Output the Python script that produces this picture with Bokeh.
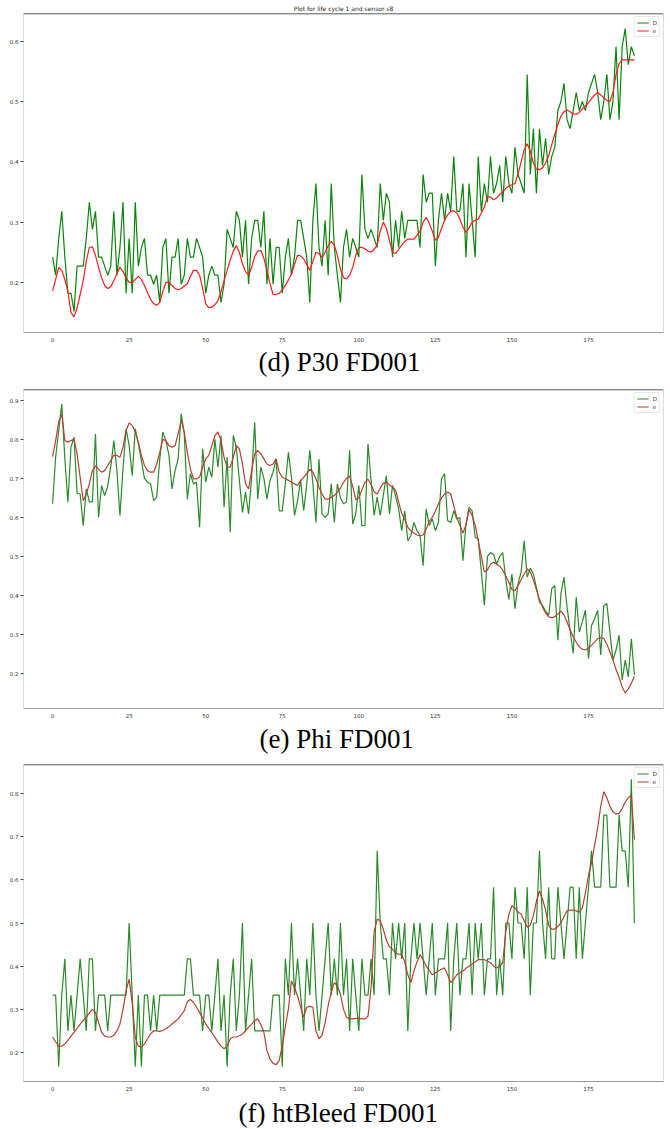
from bokeh.plotting import figure
from bokeh.models import Range1d, FixedTicker, Span, Title
from bokeh.layouts import column
from bokeh.embed import file_html
from bokeh.resources import INLINE

# ---- data -------------------------------------------------------------
cycles = list(range(191))
x_ticks = [0, 25, 50, 75, 100, 125, 150, 175]
legend_labels = ["D", "e"]

# sensor s8 (P30), normalised, with its smoothed trace
p30_raw = [
    0.242, 0.212, 0.273, 0.318, 0.242, 0.182, 0.182, 0.152, 0.227, 0.227,
    0.227, 0.273, 0.333, 0.288, 0.318, 0.242, 0.242, 0.227, 0.212, 0.227,
    0.318, 0.212, 0.258, 0.333, 0.182, 0.273, 0.182, 0.333, 0.227, 0.258,
    0.273, 0.212, 0.212, 0.197, 0.212, 0.167, 0.258, 0.273, 0.182, 0.242,
    0.242, 0.273, 0.197, 0.212, 0.273, 0.242, 0.242, 0.273, 0.258, 0.242,
    0.182, 0.212, 0.227, 0.212, 0.212, 0.167, 0.197, 0.288, 0.273, 0.258,
    0.318, 0.303, 0.242, 0.303, 0.197, 0.273, 0.303, 0.303, 0.258, 0.318,
    0.197, 0.273, 0.197, 0.258, 0.258, 0.182, 0.242, 0.273, 0.212, 0.242,
    0.303, 0.303, 0.273, 0.242, 0.167, 0.303, 0.364, 0.258, 0.227, 0.303,
    0.212, 0.364, 0.258, 0.212, 0.167, 0.258, 0.288, 0.242, 0.273, 0.258,
    0.242, 0.379, 0.288, 0.273, 0.288, 0.273, 0.258, 0.364, 0.303, 0.348,
    0.333, 0.242, 0.303, 0.258, 0.318, 0.273, 0.303, 0.303, 0.303, 0.303,
    0.258, 0.379, 0.333, 0.348, 0.348, 0.227, 0.303, 0.348, 0.303, 0.348,
    0.318, 0.409, 0.318, 0.318, 0.364, 0.242, 0.364, 0.303, 0.242, 0.409,
    0.318, 0.364, 0.333, 0.409, 0.348, 0.364, 0.394, 0.333, 0.409, 0.364,
    0.348, 0.424, 0.379, 0.364, 0.348, 0.545, 0.379, 0.455, 0.348, 0.455,
    0.394, 0.439, 0.379, 0.409, 0.424, 0.485, 0.500, 0.530, 0.470, 0.455,
    0.485, 0.515, 0.485, 0.500, 0.485, 0.515, 0.530, 0.545, 0.515, 0.470,
    0.500, 0.545, 0.470, 0.500, 0.591, 0.470, 0.591, 0.621, 0.561, 0.591,
    0.576,
]
p30_smooth = [
    0.186, 0.205, 0.225, 0.220, 0.205, 0.185, 0.150, 0.143, 0.158, 0.180,
    0.203, 0.235, 0.258, 0.259, 0.245, 0.225, 0.208, 0.195, 0.190, 0.193,
    0.203, 0.215, 0.225, 0.218, 0.208, 0.200, 0.200, 0.205, 0.210, 0.205,
    0.195, 0.183, 0.172, 0.165, 0.162, 0.167, 0.185, 0.200, 0.200, 0.195,
    0.190, 0.188, 0.190, 0.194, 0.198, 0.210, 0.220, 0.220, 0.212, 0.190,
    0.165, 0.158, 0.159, 0.163, 0.170, 0.185, 0.203, 0.220, 0.237, 0.252,
    0.261, 0.250, 0.231, 0.218, 0.212, 0.225, 0.243, 0.252, 0.253, 0.240,
    0.220, 0.198, 0.180, 0.180, 0.182, 0.188, 0.195, 0.204, 0.214, 0.230,
    0.245, 0.244, 0.239, 0.230, 0.220, 0.235, 0.250, 0.248, 0.242, 0.250,
    0.261, 0.268, 0.262, 0.245, 0.222, 0.208, 0.206, 0.212, 0.225, 0.245,
    0.258, 0.258, 0.256, 0.252, 0.250, 0.255, 0.262, 0.285, 0.300, 0.290,
    0.270, 0.250, 0.248, 0.255, 0.262, 0.268, 0.272, 0.272, 0.272, 0.278,
    0.285, 0.300, 0.308, 0.298, 0.285, 0.270, 0.275, 0.290, 0.303, 0.312,
    0.318, 0.319, 0.315, 0.305, 0.292, 0.283, 0.290, 0.300, 0.303, 0.305,
    0.315, 0.325, 0.342, 0.342, 0.337, 0.340, 0.346, 0.350, 0.356, 0.360,
    0.362, 0.364, 0.380, 0.400, 0.420, 0.430, 0.418, 0.398, 0.388, 0.387,
    0.390, 0.398, 0.410, 0.428, 0.446, 0.462, 0.476, 0.483, 0.486, 0.483,
    0.479, 0.479, 0.482, 0.488, 0.493, 0.498, 0.505, 0.511, 0.515, 0.511,
    0.506, 0.502, 0.500, 0.515, 0.545, 0.563, 0.569, 0.569, 0.569, 0.569,
    0.569,
]

# Phi, normalised, with its smoothed trace
phi_raw = [
    0.635, 0.755, 0.823, 0.891, 0.750, 0.639, 0.780, 0.806, 0.662, 0.660,
    0.579, 0.673, 0.640, 0.640, 0.814, 0.600, 0.682, 0.656, 0.680, 0.730,
    0.797, 0.720, 0.605, 0.725, 0.827, 0.784, 0.707, 0.827, 0.789, 0.746,
    0.700, 0.690, 0.686, 0.643, 0.652, 0.750, 0.819, 0.797, 0.759, 0.673,
    0.720, 0.750, 0.866, 0.814, 0.647, 0.712, 0.686, 0.690, 0.575, 0.776,
    0.690, 0.729, 0.703, 0.800, 0.729, 0.810, 0.626, 0.755, 0.562, 0.810,
    0.780, 0.695, 0.613, 0.665, 0.609, 0.703, 0.844, 0.647, 0.729, 0.700,
    0.647, 0.695, 0.716, 0.750, 0.617, 0.617, 0.686, 0.767, 0.703, 0.605,
    0.643, 0.695, 0.617, 0.686, 0.772, 0.686, 0.587, 0.750, 0.609, 0.600,
    0.609, 0.686, 0.587, 0.686, 0.650, 0.635, 0.640, 0.772, 0.583, 0.609,
    0.682, 0.579, 0.579, 0.789, 0.695, 0.605, 0.652, 0.605, 0.656, 0.707,
    0.609, 0.682, 0.656, 0.622, 0.566, 0.617, 0.540, 0.553, 0.587, 0.566,
    0.553, 0.476, 0.622, 0.579, 0.596, 0.566, 0.587, 0.699, 0.712, 0.592,
    0.587, 0.617, 0.596, 0.600, 0.489, 0.583, 0.626, 0.617, 0.549, 0.545,
    0.463, 0.374, 0.500, 0.510, 0.505, 0.480, 0.500, 0.510, 0.440, 0.390,
    0.455, 0.366, 0.430, 0.460, 0.540, 0.447, 0.470, 0.455, 0.420, 0.383,
    0.374, 0.360, 0.349, 0.417, 0.425, 0.285, 0.404, 0.447, 0.370, 0.310,
    0.251, 0.396, 0.306, 0.332, 0.362, 0.238, 0.323, 0.340, 0.362, 0.247,
    0.374, 0.379, 0.306, 0.234, 0.260, 0.298, 0.183, 0.234, 0.191, 0.289,
    0.196,
]
phi_smooth = [
    0.756, 0.797, 0.845, 0.866, 0.797, 0.793, 0.797, 0.800, 0.763, 0.703,
    0.643, 0.660, 0.686, 0.720, 0.733, 0.724, 0.716, 0.720, 0.733, 0.746,
    0.759, 0.759, 0.754, 0.780, 0.823, 0.842, 0.836, 0.819, 0.793, 0.759,
    0.733, 0.720, 0.716, 0.716, 0.737, 0.767, 0.800, 0.797, 0.784, 0.780,
    0.784, 0.814, 0.849, 0.819, 0.767, 0.724, 0.699, 0.699, 0.703, 0.729,
    0.750, 0.759, 0.784, 0.810, 0.819, 0.797, 0.754, 0.729, 0.729, 0.754,
    0.784, 0.776, 0.737, 0.686, 0.673, 0.720, 0.763, 0.772, 0.763, 0.750,
    0.737, 0.733, 0.737, 0.750, 0.716, 0.703, 0.699, 0.695, 0.690, 0.686,
    0.682, 0.695, 0.703, 0.712, 0.724, 0.716, 0.699, 0.677, 0.660, 0.647,
    0.647, 0.652, 0.656, 0.665, 0.675, 0.690, 0.700, 0.706, 0.680, 0.645,
    0.650, 0.670, 0.690, 0.698, 0.685, 0.665, 0.660, 0.675, 0.688, 0.690,
    0.683, 0.678, 0.670, 0.640, 0.610, 0.595, 0.575, 0.565, 0.560, 0.555,
    0.553, 0.555, 0.570, 0.590, 0.600, 0.615, 0.635, 0.650, 0.660, 0.665,
    0.660, 0.630, 0.600, 0.580, 0.560, 0.580, 0.620, 0.605, 0.580, 0.540,
    0.500, 0.460, 0.465, 0.480, 0.485, 0.480, 0.475, 0.465, 0.450, 0.434,
    0.415, 0.412, 0.425, 0.440, 0.455, 0.468, 0.460, 0.440, 0.415, 0.390,
    0.370, 0.355, 0.345, 0.343, 0.345, 0.352, 0.360, 0.350, 0.332, 0.312,
    0.294, 0.280, 0.268, 0.262, 0.260, 0.265, 0.272, 0.280, 0.289, 0.292,
    0.290, 0.275, 0.255, 0.234, 0.210, 0.190, 0.165, 0.150, 0.160, 0.175,
    0.193,
]

# htBleed, normalised, with its smoothed trace
htbleed_raw = [
    0.333, 0.333, 0.167, 0.333, 0.417, 0.250, 0.333, 0.250, 0.333, 0.417,
    0.333, 0.250, 0.417, 0.417, 0.250, 0.333, 0.333, 0.333, 0.250, 0.333,
    0.333, 0.333, 0.333, 0.333, 0.333, 0.500, 0.333, 0.167, 0.333, 0.167,
    0.333, 0.333, 0.250, 0.333, 0.250, 0.333, 0.333, 0.333, 0.333, 0.333,
    0.333, 0.333, 0.333, 0.333, 0.417, 0.417, 0.333, 0.333, 0.333, 0.250,
    0.333, 0.333, 0.250, 0.333, 0.417, 0.250, 0.333, 0.167, 0.333, 0.417,
    0.250, 0.333, 0.500, 0.250, 0.333, 0.417, 0.250, 0.250, 0.250, 0.250,
    0.250, 0.250, 0.333, 0.333, 0.333, 0.167, 0.417, 0.333, 0.500, 0.333,
    0.417, 0.333, 0.250, 0.417, 0.333, 0.500, 0.333, 0.250, 0.333, 0.417,
    0.500, 0.333, 0.417, 0.333, 0.500, 0.333, 0.417, 0.250, 0.417, 0.333,
    0.250, 0.417, 0.333, 0.333, 0.417, 0.333, 0.667, 0.500, 0.417, 0.417,
    0.333, 0.500, 0.417, 0.500, 0.417, 0.500, 0.250, 0.417, 0.500, 0.417,
    0.500, 0.417, 0.333, 0.417, 0.500, 0.333, 0.417, 0.417, 0.417, 0.500,
    0.250, 0.417, 0.500, 0.333, 0.417, 0.417, 0.500, 0.333, 0.500, 0.417,
    0.500, 0.333, 0.417, 0.417, 0.583, 0.333, 0.417, 0.333, 0.500, 0.500,
    0.417, 0.583, 0.500, 0.500, 0.417, 0.583, 0.333, 0.500, 0.500, 0.667,
    0.500, 0.417, 0.583, 0.417, 0.417, 0.583, 0.500, 0.417, 0.500, 0.583,
    0.583, 0.417, 0.583, 0.417, 0.500, 0.583, 0.667, 0.583, 0.583, 0.583,
    0.750, 0.750, 0.583, 0.583, 0.583, 0.750, 0.667, 0.667, 0.583, 0.833,
    0.500,
]
htbleed_smooth = [
    0.236, 0.225, 0.215, 0.215, 0.220, 0.228, 0.238, 0.247, 0.256, 0.266,
    0.274, 0.282, 0.292, 0.300, 0.293, 0.270, 0.247, 0.238, 0.236, 0.236,
    0.240, 0.250, 0.266, 0.300, 0.343, 0.370, 0.316, 0.235, 0.215, 0.213,
    0.220, 0.232, 0.243, 0.251, 0.250, 0.249, 0.251, 0.255, 0.260, 0.266,
    0.272, 0.278, 0.287, 0.297, 0.318, 0.323, 0.316, 0.305, 0.293, 0.280,
    0.266, 0.256, 0.247, 0.235, 0.224, 0.215, 0.209, 0.215, 0.232, 0.236,
    0.236, 0.239, 0.243, 0.250, 0.259, 0.266, 0.274, 0.278, 0.265, 0.247,
    0.205, 0.185, 0.175, 0.172, 0.182, 0.215, 0.260, 0.301, 0.366, 0.350,
    0.331, 0.305, 0.282, 0.305, 0.307, 0.305, 0.250, 0.232, 0.240, 0.270,
    0.309, 0.340, 0.362, 0.355, 0.335, 0.300, 0.282, 0.278, 0.278, 0.279,
    0.279, 0.278, 0.278, 0.284, 0.350, 0.480, 0.509, 0.505, 0.486, 0.460,
    0.445, 0.440, 0.430, 0.428, 0.427, 0.410, 0.380, 0.362, 0.389, 0.410,
    0.427, 0.415, 0.400, 0.390, 0.380, 0.385, 0.389, 0.393, 0.396, 0.380,
    0.362, 0.370, 0.380, 0.385, 0.389, 0.395, 0.400, 0.405, 0.410, 0.415,
    0.415, 0.415, 0.412, 0.408, 0.400, 0.396, 0.400, 0.408, 0.480, 0.520,
    0.540, 0.535, 0.525, 0.520, 0.505, 0.490, 0.495, 0.517, 0.550, 0.574,
    0.555, 0.530, 0.495, 0.486, 0.486, 0.492, 0.500, 0.515, 0.528, 0.530,
    0.530, 0.528, 0.525, 0.535, 0.570, 0.610, 0.640, 0.680, 0.720, 0.770,
    0.804, 0.790, 0.770, 0.758, 0.752, 0.754, 0.765, 0.780, 0.790, 0.795,
    0.693,
]

p30_y_ticks = [0.2, 0.3, 0.4, 0.5, 0.6]
phi_y_ticks = [0.2, 0.3, 0.4, 0.5, 0.6, 0.7, 0.8, 0.9]
htbleed_y_ticks = [0.2, 0.3, 0.4, 0.5, 0.6, 0.7, 0.8]

for series in (p30_raw, p30_smooth, phi_raw, phi_smooth, htbleed_raw, htbleed_smooth):
    assert len(series) == len(cycles), len(series)

TICK_FONT = "DejaVu Sans"


def make_panel(height, border_top, border_bottom, y_lo, y_hi, y_ticks,
               raw, smooth, raw_color, smooth_color,
               caption, caption_offset, caption_standoff, title_text=None):
    p = figure(width=670, height=height, output_backend="svg",
               toolbar_location=None,
               x_range=Range1d(-9.5, 199.5), y_range=Range1d(y_lo, y_hi),
               min_border_left=23, min_border_right=7,
               min_border_top=border_top, min_border_bottom=border_bottom,
               background_fill_color="white", border_fill_color="white")
    p.outline_line_color = "#dcdcdc"
    p.grid.visible = False

    # title above the frame (first panel only)
    if title_text:
        p.title.text = title_text
        p.title.align = "center"
        p.title.text_font = TICK_FONT
        p.title.text_font_size = "6px"
        p.title.text_font_style = "normal"
        p.title.text_color = "#222222"
        p.title.standoff = 3
    else:
        p.title.text = ""

    # axes
    xa = p.xaxis[0]
    xa.ticker = FixedTicker(ticks=x_ticks)
    xa.axis_line_color = "#9a9a9a"
    xa.major_tick_out = 0
    xa.major_tick_in = 0
    xa.minor_tick_line_color = None
    xa.major_label_standoff = 4
    xa.major_label_text_font = TICK_FONT
    xa.major_label_text_font_size = "5.5px"
    xa.major_label_text_color = "#333333"

    ya = p.yaxis[0]
    ya.ticker = FixedTicker(ticks=y_ticks)
    ya.axis_line_color = "#dcdcdc"
    ya.major_tick_out = 3
    ya.major_tick_in = 0
    ya.major_tick_line_color = "#444444"
    ya.minor_tick_line_color = None
    ya.major_label_standoff = 2
    ya.major_label_text_font = TICK_FONT
    ya.major_label_text_font_size = "5.5px"
    ya.major_label_text_color = "#333333"
    ya.major_label_overrides = {t: f"{t:.1f}" for t in y_ticks}

    # dark top spine
    p.add_layout(Span(location=y_hi, dimension="width",
                      line_color="#3a3a3a", line_width=1.3))

    p.line(cycles, raw, line_color=raw_color, line_width=1.2,
           legend_label=legend_labels[0])
    p.line(cycles, smooth, line_color=smooth_color, line_width=1.2,
           legend_label=legend_labels[1])

    lg = p.legend[0]
    lg.location = "top_right"
    lg.margin = 3
    lg.padding = 2
    lg.spacing = 1
    lg.glyph_width = 12
    lg.glyph_height = 7
    lg.label_height = 7
    lg.label_width = 4
    lg.label_standoff = 4
    lg.label_text_font = TICK_FONT
    lg.label_text_font_size = "5.5px"
    lg.label_text_color = "#333333"
    lg.border_line_color = "#cfcfcf"
    lg.border_line_width = 1
    lg.background_fill_alpha = 0.85

    # caption under the panel
    p.add_layout(Title(text=caption, align="left", offset=caption_offset,
                       text_font="Liberation Serif", text_font_size="27px",
                       text_font_style="normal", text_color="black",
                       standoff=caption_standoff), "below")
    return p


p1 = make_panel(378, 13, 46, 0.117, 0.646, p30_y_ticks, p30_raw, p30_smooth,
                "#0a840a", "#ff1a1a", "(d) P30 FD001", 235, 0,
                title_text="Plot for life cycle 1 and sensor s8")
p2 = make_panel(378, 11, 48, 0.110, 0.928, phi_y_ticks, phi_raw, phi_smooth,
                "#2a8a2a", "#b5402f", "(e) Phi FD001", 236, 2)
p3 = make_panel(373, 8, 46, 0.133, 0.867, htbleed_y_ticks, htbleed_raw,
                htbleed_smooth, "#2a8a2a", "#b5402f", "(f) htBleed FD001", 215, 4)

layout = column(p1, p2, p3, spacing=0)

open("out.html", "w").write(file_html(layout, INLINE))
